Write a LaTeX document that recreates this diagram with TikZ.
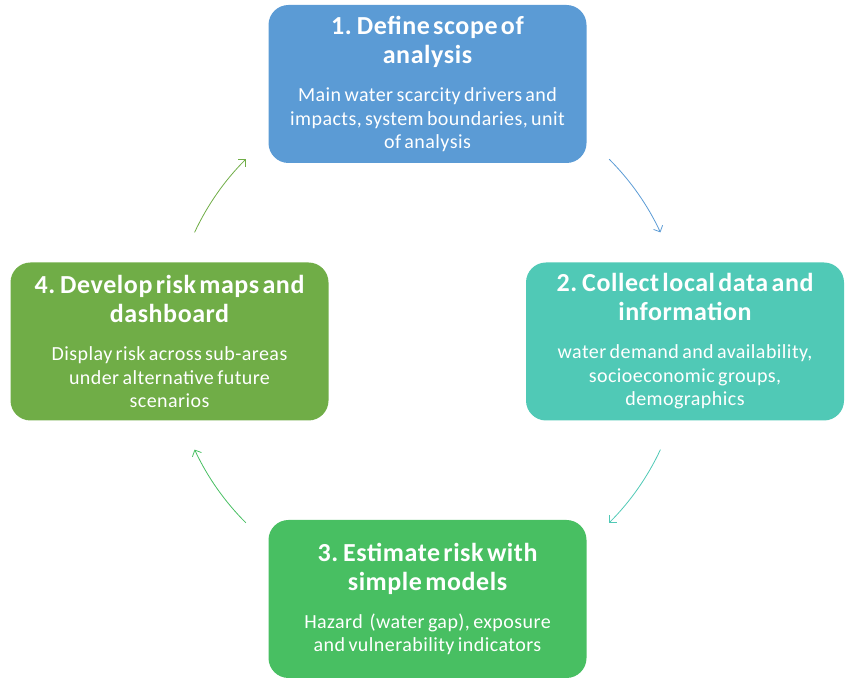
\documentclass[tikz,border=0pt]{standalone}
\usepackage{fontspec}
\setmainfont{Carlito}[LetterSpace=2.2, WordSpace=1.4]
\usetikzlibrary{arrows.meta}
\definecolor{stageblue}{RGB}{91,155,213}
\definecolor{stageteal}{RGB}{80,201,182}
\definecolor{stagegreen}{RGB}{72,191,98}
\definecolor{stageolive}{RGB}{112,173,71}
\newcommand{\stagehead}{\fontsize{26}{29}\selectfont\bfseries}
\newcommand{\stagebody}{\fontsize{20}{23.5}\selectfont}
\begin{document}
\begin{tikzpicture}[x=1pt, y=1pt]
      \tikzset{stage/.style={rounded corners=20pt, inner sep=0pt, minimum width=318pt, minimum height=158pt, text width=314pt, align=center, text=white}}
      \tikzset{flow/.style={-{Straight Barb[length=5pt, width=10pt]}, line width=0.8pt}}
      \useasboundingbox (0,0) rectangle (854,679);
%% Stages
      	\node[stage, fill=stageblue] (define) at (427.5,595) {{\stagehead 1. Define scope of\\analysis\par}\vspace{14.5pt}{\stagebody Main water scarcity drivers and\\impacts, system boundaries, unit\\of analysis\par}};
      	\node[stage, fill=stageteal] (collect) at (685,337.5) {{\stagehead 2. Collect local data and\\information\par}\vspace{14.5pt}{\stagebody water demand and availability,\\socioeconomic groups,\\demographics\par}};
    	\node[stage, fill=stagegreen] (estimate) at (427.5,80) {{\stagehead 3. Estimate risk with\\simple models\par}\vspace{14.5pt}{\stagebody Hazard~ (water gap), exposure\\and vulnerability indicators\par}};
  	    \node[stage, fill=stageolive] (develop) at (169.5,337.5) {{\stagehead 4. Develop risk maps and\\dashboard\par}\vspace{14.5pt}{\stagebody Display risk across sub-areas\\under alternative future\\scenarios\par}};
%Arrows
		\coordinate (hub) at (427.5,338);
		\coordinate (out1) at ([shift={(45:257)}]hub);
		\coordinate (out2) at ([shift={(-25:257)}]hub);
		\coordinate (out3) at ([shift={(225:257)}]hub);
		\coordinate (out4) at ([shift={(155:257)}]hub);
		\draw[flow, stageblue] (out1) arc[start angle=45, end angle=25, radius=257];
		\draw[flow, stageteal] (out2) arc[start angle=-25, end angle=-45, radius=257];
		\draw[flow, stagegreen] (out3) arc[start angle=225, end angle=205, radius=257];
		\draw[flow, stageolive] (out4) arc[start angle=155, end angle=135, radius=257];
	\end{tikzpicture}
\end{document}
